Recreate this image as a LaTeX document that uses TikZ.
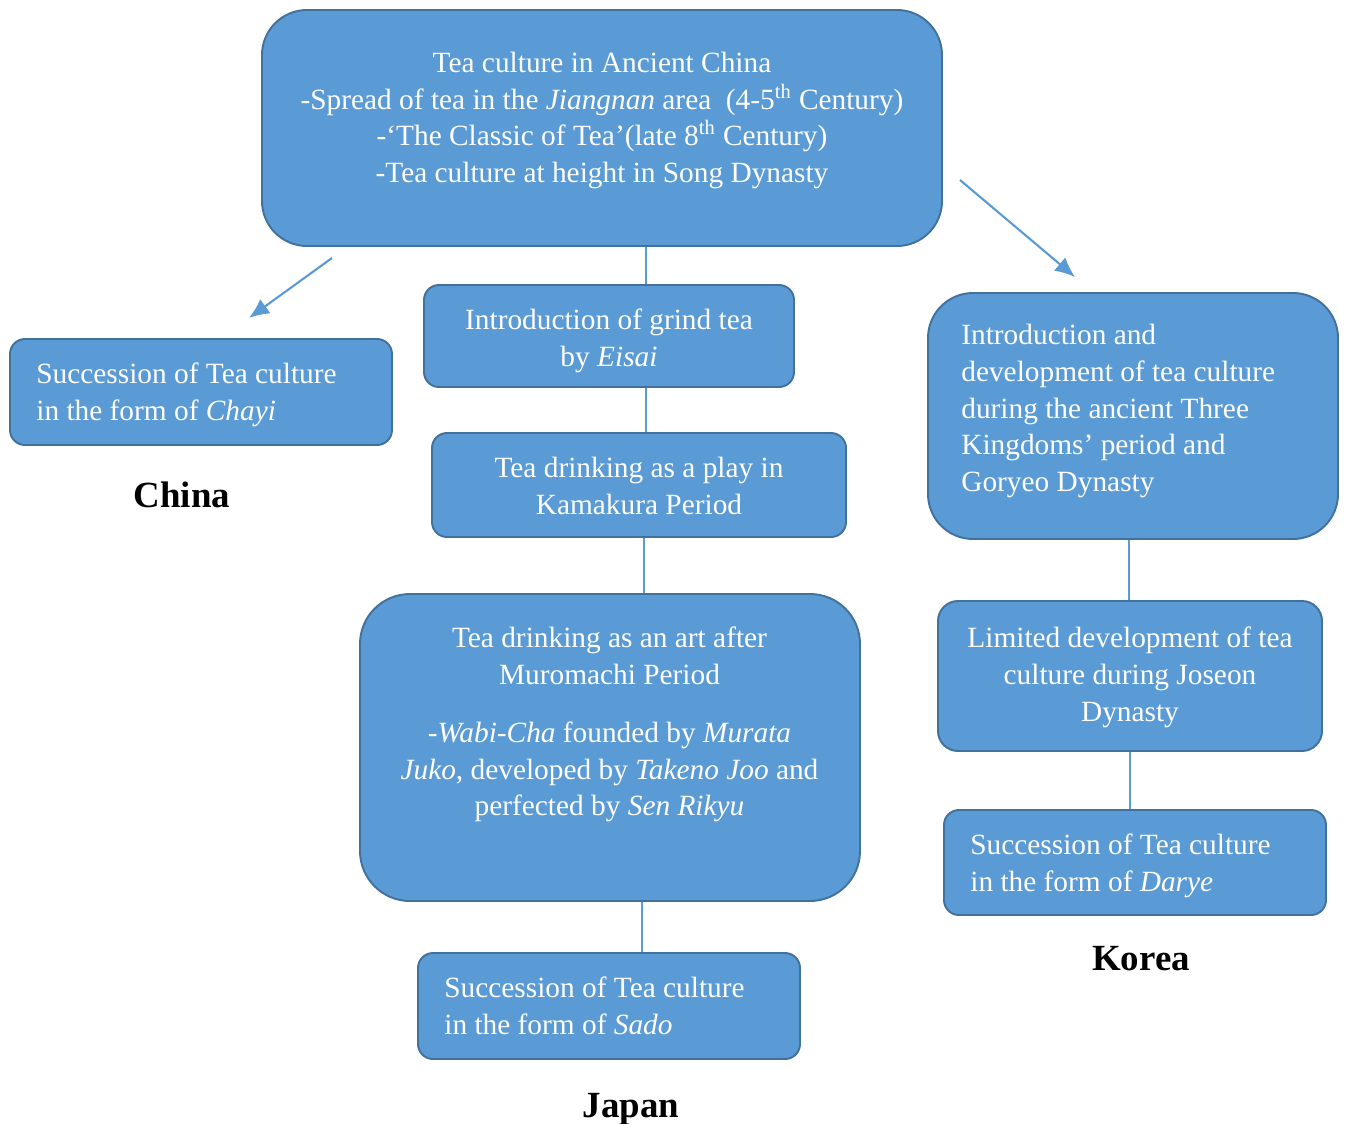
\documentclass[tikz,border=0pt]{standalone}
\usepackage{fontspec}
\setmainfont{Liberation Serif}
\usepackage{tikz}
\usetikzlibrary{arrows.meta}
\definecolor{boxfill}{HTML}{5B9BD5}
\definecolor{boxline}{HTML}{41719C}
\tikzstyle{box}=[rectangle, fill=boxfill, draw=boxline, line width=1.1pt, rounded corners=0.3cm]
\tikzstyle{boxtext}=[text=white, inner sep=0pt, font=\fontsize{16.7}{21}\selectfont]
\tikzstyle{country}=[inner sep=0pt, font=\fontsize{21}{25}\selectfont\bfseries]
\tikzstyle{link}=[draw=boxfill, line width=0.6pt]
\tikzstyle{arrow}=[draw=boxfill, line width=1.2pt, -{Latex[length=4mm, width=3.5mm]}]

\begin{document}
\begin{tikzpicture}
	\useasboundingbox (0,0) rectangle (26.92,-22.48);
	\begin{scope}
		% ancient china
		\node (top) at (12.04,-2.56)[box, rounded corners=0.9cm, minimum width=13.6cm, minimum height=4.72cm] {};
		\node (topT) at (12.04,-2.41)[boxtext, align=center] {
			Tea culture in Ancient China\\
			-Spread of tea in the \textit{Jiangnan} area\ \ (4-5\textsuperscript{th} Century)\\
			-‘The Classic of Tea’(late 8\textsuperscript{th} Century)\\
			-Tea culture at height in Song Dynasty
		};
		% china
		\node (chayi) at (4.02,-7.84)[box, minimum width=7.64cm, minimum height=2.12cm] {};
		\node (chayiT) at (0.72,-7.90)[boxtext, anchor=west, align=left] {
			Succession of Tea culture\\
			in the form of \textit{Chayi}
		};
		\node (china) at (3.64,-9.90)[country] {China};
		% japan
		\node (eisai) at (12.18,-6.72)[box, minimum width=7.4cm, minimum height=2.04cm] {};
		\node (eisaiT) at (12.18,-6.81)[boxtext, align=center] {
			Introduction of grind tea\\
			by \textit{Eisai}
		};
		\node (kama) at (12.78,-9.70)[box, minimum width=8.28cm, minimum height=2.08cm] {};
		\node (kamaT) at (12.78,-9.72)[boxtext, align=center] {
			Tea drinking as a play in\\
			Kamakura Period
		};
		\node (muro) at (12.20,-14.95)[box, rounded corners=1cm, minimum width=10cm, minimum height=6.14cm] {};
		\node (muroT) at (12.19,-14.49)[boxtext, align=center] {
			Tea drinking as an art after\\
			Muromachi Period\\[0.42cm]
			-\textit{Wabi-Cha} founded by \textit{Murata}\\
			\textit{Juko}, developed by \textit{Takeno Joo} and\\
			perfected by \textit{Sen Rikyu}
		};
		\node (sado) at (12.18,-20.12)[box, minimum width=7.64cm, minimum height=2.12cm] {};
		\node (sadoT) at (8.88,-20.12)[boxtext, anchor=west, align=left] {
			Succession of Tea culture\\
			in the form of \textit{Sado}
		};
		\node (japan) at (12.62,-22.18)[country] {Japan};
		% korea
		\node (goryeo) at (22.66,-8.32)[box, rounded corners=0.9cm, minimum width=8.2cm, minimum height=4.92cm] {};
		\node (goryeoT) at (19.22,-8.22)[boxtext, anchor=west, align=left] {
			Introduction and\\
			development of tea culture\\
			during the ancient Three\\
			Kingdoms’ period and\\
			Goryeo Dynasty
		};
		\node (joseon) at (22.60,-13.52)[box, rounded corners=0.4cm, minimum width=7.68cm, minimum height=3cm] {};
		\node (joseonT) at (22.60,-13.54)[boxtext, align=center] {
			Limited development of tea\\
			culture during Joseon\\
			Dynasty
		};
		\node (darye) at (22.70,-17.25)[box, minimum width=7.64cm, minimum height=2.1cm] {};
		\node (daryeT) at (19.40,-17.32)[boxtext, anchor=west, align=left] {
			Succession of Tea culture\\
			in the form of \textit{Darye}
		};
		\node (korea) at (22.82,-19.18)[country] {Korea};
	\end{scope}
	\begin{scope}
		\coordinate (jA) at (12.92,0);
		\coordinate (jB) at (12.88,0);
		\coordinate (jC) at (12.84,0);
		\coordinate (kA) at (22.58,0);
		\coordinate (kB) at (22.60,0);
		\coordinate (cnFrom) at (6.64,-5.16);
		\coordinate (cnTo) at (4.98,-6.36);
		\coordinate (krFrom) at (19.2,-3.6);
		\coordinate (krTo) at (21.5,-5.54);
		\path [link] (top.south -| jA) -- (eisai.north -| jA);
		\path [link] (eisai.south -| jA) -- (kama.north -| jA);
		\path [link] (kama.south -| jB) -- (muro.north -| jB);
		\path [link] (muro.south -| jC) -- (sado.north -| jC);
		\path [link] (goryeo.south -| kA) -- (joseon.north -| kA);
		\path [link] (joseon.south -| kB) -- (darye.north -| kB);
		\path [arrow] (cnFrom) -- (cnTo);
		\path [arrow] (krFrom) -- (krTo);
	\end{scope}
\end{tikzpicture}
\end{document}
